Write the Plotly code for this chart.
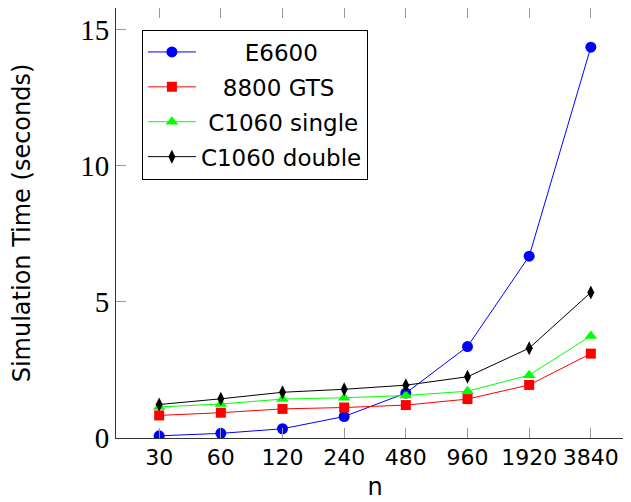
import plotly.graph_objects as go

categories = ["30", "60", "120", "240", "480", "960", "1920", "3840"]
e6600 = [0.08, 0.17, 0.34, 0.79, 1.65, 3.36, 6.68, 14.36]
gts8800 = [0.83, 0.93, 1.07, 1.12, 1.21, 1.43, 1.95, 3.10]
c1060_single = [1.14, 1.25, 1.43, 1.48, 1.56, 1.72, 2.31, 3.75]
c1060_double = [1.23, 1.44, 1.68, 1.79, 1.94, 2.25, 3.30, 5.35]

series = [
    ("E6600", e6600, "#0000ff", "circle", 11),
    ("8800 GTS", gts8800, "#ff0000", "square", 10),
    ("C1060 single", c1060_single, "#00ff00", "triangle-up", 11),
    ("C1060 double", c1060_double, "#000000", "diamond-tall", 10),
]
pad = {"E6600": 6, "8800 GTS": 3, "C1060 single": 1, "C1060 double": 0}

SANS = "DejaVu Sans"
xpos = list(range(len(categories)))
fig = go.Figure()
for i, (name, vals, col, sym, sz) in enumerate(series):
    fig.add_trace(go.Scatter(
        x=xpos, y=vals, mode="lines+markers",
        name="\u00a0" * pad[name] + name,
        legendgroup=f"g{i}",
        line=dict(color=col, width=1),
        marker=dict(color=col, symbol=sym, size=sz, line=dict(width=0)),
    ))

fig.update_layout(
    width=631, height=502,
    margin=dict(l=108, r=5, t=0, b=72),
    paper_bgcolor="white", plot_bgcolor="white",
    showlegend=True,
    legend=dict(
        x=0.05, y=0.95, xanchor="left", yanchor="top",
        bordercolor="black", borderwidth=1, bgcolor="white",
        font=dict(family=SANS, size=23, color="black"),
        tracegroupgap=2, itemwidth=48,
    ),
    font=dict(family=SANS, color="black"),
)
fig.update_xaxes(
    range=[-0.7, 7.7], tickmode="array", tickvals=xpos, ticktext=categories,
    showline=True, linecolor="#333333", linewidth=1, mirror="ticks",
    ticks="inside", ticklen=10, tickcolor="#999999",
    showgrid=False, zeroline=False, automargin=False,
    tickfont=dict(family=SANS, size=22, color="black"),
    title=dict(text="n", font=dict(family=SANS, size=24), standoff=8),
)
fig.update_yaxes(
    range=[0, 15.8], tickvals=[0, 5, 10, 15],
    showline=True, linecolor="#333333", linewidth=1, mirror="ticks",
    ticks="inside", ticklen=10, tickcolor="#999999",
    showgrid=False, zeroline=False, automargin=False,
    tickfont=dict(family="Liberation Serif", size=29, color="black"),
    title=dict(text="Simulation Time (seconds)", font=dict(family=SANS, size=24), standoff=48),
)
fig.write_html("out.html")
